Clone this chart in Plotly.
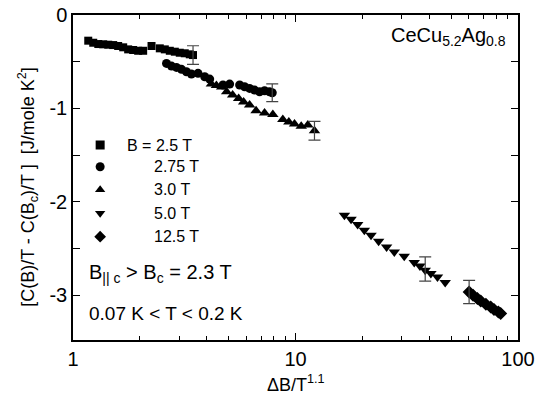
import plotly.graph_objects as go

# ---------------- data ----------------
sq_x = [1.171, 1.233, 1.299, 1.367, 1.440, 1.516, 1.596, 1.681, 1.770, 1.864, 1.963, 2.067,
        2.254, 2.455, 2.586, 2.723, 2.868, 3.019, 3.179, 3.348, 3.463]
sq_y = [-0.275, -0.297, -0.311, -0.314, -0.318, -0.322, -0.332, -0.346, -0.368, -0.375, -0.383, -0.383,
        -0.332, -0.357, -0.368, -0.383, -0.393, -0.404, -0.410, -0.421, -0.429]

ci_x = [2.632, 2.771, 2.917, 3.073, 3.235, 3.406, 3.647, 3.908, 4.115, 4.721, 5.058, 5.610,
        5.906, 6.219, 6.549, 6.896, 7.261, 7.645, 7.861]
ci_y = [-0.518, -0.547, -0.561, -0.582, -0.608, -0.632, -0.625, -0.661, -0.686, -0.750, -0.740, -0.750,
        -0.768, -0.786, -0.804, -0.822, -0.811, -0.822, -0.833]

tu_x = [4.188, 4.410, 4.658, 4.904, 5.218, 5.553, 5.846, 6.219, 6.651, 7.261, 7.910, 8.770,
        9.333, 9.897, 10.61, 11.36, 12.17]
tu_y = [-0.740, -0.756, -0.772, -0.822, -0.857, -0.895, -0.932, -0.965, -1.024, -1.050, -1.066, -1.120,
        -1.147, -1.168, -1.190, -1.179, -1.240]

td_x = [16.59, 17.77, 19.03, 20.39, 21.85, 23.64, 25.67, 27.80, 30.81, 34.17, 36.24, 38.28,
        40.60, 43.46, 47.07]
td_y = [-2.144, -2.186, -2.243, -2.304, -2.358, -2.422, -2.483, -2.537, -2.583, -2.651, -2.687, -2.733,
        -2.768, -2.805, -2.865]

di_x = [60.3, 62.8, 65.7, 68.0, 71.7, 75.4, 78.0, 81.6, 83.6]
di_y = [-2.966, -3.001, -3.036, -3.062, -3.098, -3.126, -3.154, -3.180, -3.197]

# representative error bars (x, y, +/- err)
err_x = [3.463, 7.861, 12.17, 38.28, 60.3]
err_y = [-0.429, -0.833, -1.240, -2.72, -2.966]
err_v = [0.10, 0.095, 0.10, 0.13, 0.125]

legend_labels = ["B = 2.5 T", "2.75 T", "3.0 T", "5.0 T", "12.5 T"]
x_tickvals = [1, 10, 100]
x_ticktext = ["1", "10", "100"]
y_tickvals = [0, -1, -2, -3]
y_ticktext = ["0", "-1", "-2", "-3"]

# ---------------- figure ----------------
FONT = "Liberation Sans, Arial, sans-serif"
symbols = ["square", "circle", "triangle-up", "triangle-down", "diamond"]
sizes = [8, 9, 10, 10, 10]
series = [(sq_x, sq_y), (ci_x, ci_y), (tu_x, tu_y), (td_x, td_y), (di_x, di_y)]

fig = go.Figure()
for (xs, ys), sym, sz in zip(series, symbols, sizes):
    fig.add_trace(go.Scatter(x=xs, y=ys, mode="markers",
                             marker=dict(symbol=sym, size=sz, color="black", line=dict(width=0)),
                             showlegend=False, hoverinfo="skip"))

fig.add_trace(go.Scatter(x=err_x, y=err_y, mode="markers",
                         marker=dict(size=1, color="rgba(0,0,0,0)"),
                         error_y=dict(type="data", array=err_v, visible=True,
                                      color="#444", thickness=1.2, width=6),
                         showlegend=False, hoverinfo="skip"))

# legend markers on an overlay axis (0..1 range)
leg_x = 0.061
leg_rows = [0.600, 0.533, 0.462, 0.390, 0.318]
for sym, yy in zip(symbols, leg_rows):
    fig.add_trace(go.Scatter(x=[leg_x], y=[yy], mode="markers", xaxis="x2", yaxis="y2",
                             marker=dict(symbol=sym, size=9, color="black"),
                             showlegend=False, hoverinfo="skip"))

annotations = []
for i, (lab, yy) in enumerate(zip(legend_labels, leg_rows)):
    annotations.append(dict(text=lab, x=0.117 if i == 0 else 0.177, y=yy, xref="paper", yref="paper",
                            xanchor="left", yanchor="middle", showarrow=False,
                            font=dict(family=FONT, size=16, color="black")))

annotations += [
    dict(text="B<sub>|| c</sub> > B<sub>c</sub> = 2.3 T", x=0.031, y=0.205, xref="paper", yref="paper",
         xanchor="left", yanchor="middle", showarrow=False, font=dict(family=FONT, size=20, color="black")),
    dict(text="0.07 K < T < 0.2 K", x=0.031, y=0.083, xref="paper", yref="paper",
         xanchor="left", yanchor="middle", showarrow=False, font=dict(family=FONT, size=19, color="black")),
    dict(text="CeCu<sub>5.2</sub>Ag<sub>0.8</sub>", x=0.977, y=0.935, xref="paper", yref="paper",
         xanchor="right", yanchor="middle", showarrow=False, font=dict(family=FONT, size=20, color="black")),
    dict(text="ΔB/T<sup>1.1</sup>", x=0.501, y=-0.135, xref="paper", yref="paper",
         xanchor="center", yanchor="middle", showarrow=False, font=dict(family=FONT, size=18, color="black")),
    dict(text="[C(B)/T - C(B<sub>c</sub>)/T ]  [J/mole K<sup>2</sup>]", x=-0.102, y=0.47,
         xref="paper", yref="paper", textangle=-90, xanchor="center", yanchor="middle",
         showarrow=False, font=dict(family=FONT, size=18, color="black")),
]

fig.update_layout(
    width=543, height=398,
    margin=dict(l=73, r=25, t=15, b=58, autoexpand=False),
    paper_bgcolor="white", plot_bgcolor="white",
    showlegend=False,
    font=dict(family=FONT, size=20, color="black"),
    xaxis=dict(type="log", range=[0, 2], tickvals=x_tickvals, ticktext=x_ticktext,
               ticks="inside", ticklen=7, tickwidth=1.3, tickcolor="black",
               minor=dict(ticks="inside", ticklen=4, tickwidth=1, tickcolor="black",
                          tickvals=[2, 3, 4, 5, 6, 7, 8, 9, 20, 30, 40, 50, 60, 70, 80, 90]),
               showline=True, linecolor="black", linewidth=1.5, mirror="ticks",
               showgrid=False, zeroline=False, tickfont=dict(size=20), automargin=False),
    yaxis=dict(range=[-3.48, 0], tickvals=y_tickvals, ticktext=y_ticktext,
               ticks="inside", ticklen=7, tickwidth=1.3, tickcolor="black",
               minor=dict(ticks="inside", ticklen=7, tickwidth=1, tickcolor="black", dtick=0.5, tick0=0),
               showline=True, linecolor="black", linewidth=1.5, mirror="ticks",
               showgrid=False, zeroline=False, tickfont=dict(size=20), automargin=False),
    xaxis2=dict(range=[0, 1], overlaying="x", visible=False, anchor="y2", automargin=False),
    yaxis2=dict(range=[0, 1], overlaying="y", visible=False, anchor="x2", automargin=False),
    annotations=annotations,
)

fig.write_html("out.html",
               config={"displayModeBar": False},
               post_script="document.body.style.margin='0';document.body.style.padding='0';"
                           "document.body.style.overflow='hidden';")
